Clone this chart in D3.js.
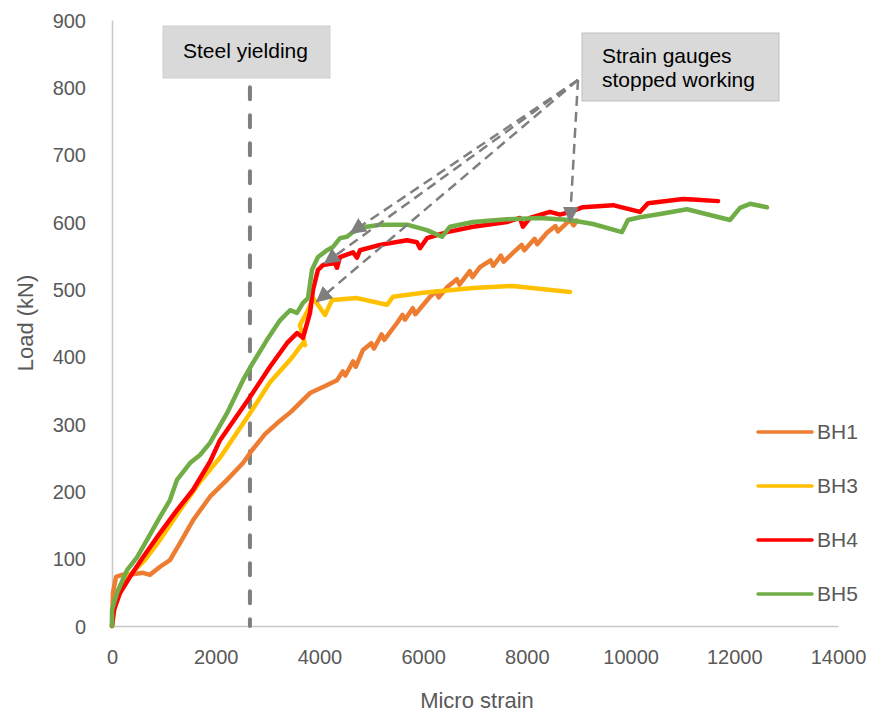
<!DOCTYPE html>
<html>
<head>
<meta charset="utf-8">
<script src="https://cdn.jsdelivr.net/npm/d3@7"></script>
<style>
  body { margin: 0; background: #fff; }
  svg text { font-family: "Liberation Sans", Arial, sans-serif; }
</style>
</head>
<body>
<script>
// series data, [micro strain, load kN]
var bh1 = [[0,0],[19,49],[77,73],[193,76],[400,77],[598,79],[733,76],[926,88],[1118,98],[1311,123],[1562,157],[1890,192],[2218,217],[2526,242],[2700,261],[2950,285],[3182,301],[3450,318],[3818,346],[4100,356],[4339,365],[4450,378],[4500,372],[4650,393],[4700,385],[4840,410],[5000,420],[5050,412],[5200,433],[5250,425],[5496,450],[5600,462],[5650,455],[5800,472],[5850,463],[6132,489],[6250,497],[6300,488],[6460,503],[6650,515],[6700,507],[6900,527],[6950,518],[7096,533],[7300,543],[7350,535],[7500,550],[7550,541],[7732,554],[7900,566],[7950,558],[8150,575],[8200,567],[8388,584],[8550,594],[8600,586],[8832,603],[8900,595],[8966,602]];
var bh3 = [[0,0],[58,31],[154,53],[347,76],[636,98],[926,128],[1311,172],[1697,214],[2083,250],[2661,316],[3047,362],[3432,395],[3683,420],[3722,417],[3625,447],[3779,469],[3876,487],[3972,477],[4107,462],[4242,484],[4724,487],[5303,477],[5418,489],[5997,495],[6961,502],[7732,505],[8832,496]];
var bh4 = [[0,0],[39,24],[154,49],[347,73],[598,102],[926,138],[1253,172],[1562,202],[1890,244],[2083,276],[2661,340],[3047,385],[3374,420],[3567,435],[3683,428],[3818,465],[3876,499],[3972,529],[4069,536],[4300,539],[4339,532],[4397,548],[4647,555],[4724,547],[4782,558],[5168,566],[5688,573],[5881,570],[5939,561],[6074,576],[6460,585],[6961,593],[7617,600],[7867,606],[7925,593],[8060,606],[8446,615],[8639,611],[8832,615],[9082,622],[9661,625],[10181,615],[10336,628],[11011,634],[11281,633],[11686,631]];
var bh5 = [[0,0],[0,24],[96,49],[289,83],[482,102],[675,128],[926,162],[1118,187],[1253,217],[1504,242],[1697,254],[1890,272],[2218,316],[2526,365],[2719,391],[2989,425],[3240,454],[3432,469],[3567,465],[3683,480],[3779,487],[3857,529],[3972,548],[4146,558],[4262,563],[4397,576],[4531,578],[4647,585],[4917,593],[5168,596],[5688,596],[6074,588],[6363,578],[6518,593],[6961,600],[7617,604],[8253,606],[8832,603],[9275,597],[9834,585],[9950,603],[10181,607],[10567,612],[11088,619],[11917,603],[12110,621],[12303,627],[12630,622]];

var seriesNames = ["BH1", "BH3", "BH4", "BH5"];
var seriesData = [bh1, bh3, bh4, bh5];
var seriesColors = ["#ED7D31", "#FFC000", "#FF0000", "#70AD47"];

var xTicks = [0, 2000, 4000, 6000, 8000, 10000, 12000, 14000];
var yTicks = [0, 100, 200, 300, 400, 500, 600, 700, 800, 900];

// annotations
var yieldStrain = 2660;
var arrowFrom = [8986, 811];
var arrowTips = [[3953, 482], [4107, 539], [4608, 584], [8832, 601]];

var margin = {top: 20, right: 46, bottom: 89, left: 112};
var W = 884, H = 715;
var width = W - margin.left - margin.right,
    height = H - margin.top - margin.bottom;

var svg = d3.select("body").append("svg")
  .attr("width", W)
  .attr("height", H);

svg.append("defs").append("marker")
  .attr("id", "tri")
  .attr("viewBox", "0 0 10 10")
  .attr("refX", 9).attr("refY", 5)
  .attr("markerUnits", "userSpaceOnUse")
  .attr("markerWidth", 16).attr("markerHeight", 16)
  .attr("orient", "auto")
  .append("path")
  .attr("d", "M0,0 L10,5 L0,10 Z")
  .attr("fill", "#7f7f7f");

var g = svg.append("g")
  .attr("transform", "translate(" + margin.left + "," + margin.top + ")");

var x = d3.scaleLinear().domain([0, 14000]).range([0, width]);
var y = d3.scaleLinear().domain([0, 900]).range([height, 0]);

// axes
var xAxis = g.append("g")
  .attr("transform", "translate(0," + height + ")")
  .call(d3.axisBottom(x).tickValues(xTicks).tickSize(0).tickPadding(24).tickFormat(d3.format("d")));
var yAxis = g.append("g")
  .call(d3.axisLeft(y).tickValues(yTicks).tickSize(0).tickPadding(26));

[xAxis, yAxis].forEach(function(a){
  a.select(".domain").attr("stroke", "#c8c8c8").attr("stroke-width", 1.5);
  a.selectAll("text").attr("fill", "#595959").style("font-size", "20px");
});
yAxis.selectAll("text").attr("dy", "0.35em");

// axis titles
svg.append("text")
  .attr("x", margin.left + width / 2 + 2)
  .attr("y", 708)
  .attr("text-anchor", "middle")
  .attr("fill", "#595959")
  .style("font-size", "22px")
  .text("Micro strain");

svg.append("text")
  .attr("transform", "translate(33," + (margin.top + height / 2) + ") rotate(-90)")
  .attr("text-anchor", "middle")
  .attr("fill", "#595959")
  .style("font-size", "22px")
  .text("Load (kN)");

// steel yielding line
g.append("line")
  .attr("x1", x(yieldStrain)).attr("x2", x(yieldStrain))
  .attr("y1", y(800)).attr("y2", y(0))
  .attr("stroke", "#7f7f7f")
  .attr("stroke-width", 4)
  .attr("stroke-dasharray", "12,16")
  .attr("stroke-linecap", "round");

// series
var line = d3.line()
  .x(function(d){ return x(d[0]); })
  .y(function(d){ return y(d[1]); });

seriesData.forEach(function(s, i){
  g.append("path")
    .datum(s)
    .attr("fill", "none")
    .attr("stroke", seriesColors[i])
    .attr("stroke-width", 4.5)
    .attr("stroke-linejoin", "round")
    .attr("stroke-linecap", "round")
    .attr("d", line);
});

// arrows to where gauges stopped
g.selectAll(".arrow")
  .data(arrowTips)
  .enter()
  .append("line")
  .attr("class", "arrow")
  .attr("x1", x(arrowFrom[0])).attr("y1", y(arrowFrom[1]))
  .attr("x2", function(d){ return x(d[0]); })
  .attr("y2", function(d){ return y(d[1]); })
  .attr("stroke", "#7f7f7f")
  .attr("stroke-width", 2.5)
  .attr("stroke-dasharray", "10,6")
  .attr("marker-end", "url(#tri)");

// callout boxes
var box1 = svg.append("g");
box1.append("rect")
  .attr("x", 163).attr("y", 26).attr("width", 167).attr("height", 52)
  .attr("fill", "#d9d9d9").attr("stroke", "#d0d0d0");
box1.append("text")
  .attr("x", 183).attr("y", 58)
  .attr("fill", "#000")
  .style("font-size", "21px")
  .text("Steel yielding");

var box2 = svg.append("g");
box2.append("rect")
  .attr("x", 582).attr("y", 33).attr("width", 197).attr("height", 68)
  .attr("fill", "#d9d9d9").attr("stroke", "#bfbfbf");
box2.append("text")
  .attr("x", 602).attr("y", 63)
  .attr("fill", "#000")
  .style("font-size", "21px")
  .selectAll("tspan")
  .data(["Strain gauges", "stopped working"])
  .enter()
  .append("tspan")
  .attr("x", 602)
  .attr("dy", function(d, i){ return i == 0 ? 0 : 24; })
  .text(function(d){ return d; });

// legend
var legend = svg.append("g")
  .selectAll("g")
  .data(seriesNames)
  .enter()
  .append("g")
  .attr("transform", function(d, i){ return "translate(758," + (432 + i * 54) + ")"; });

legend.append("line")
  .attr("x1", 0).attr("x2", 54)
  .attr("stroke", function(d, i){ return seriesColors[i]; })
  .attr("stroke-width", 3.5)
  .attr("stroke-linecap", "round");

legend.append("text")
  .attr("x", 59).attr("dy", "0.35em")
  .attr("fill", "#595959")
  .style("font-size", "21px")
  .text(function(d){ return d; });
</script>
</body>
</html>
